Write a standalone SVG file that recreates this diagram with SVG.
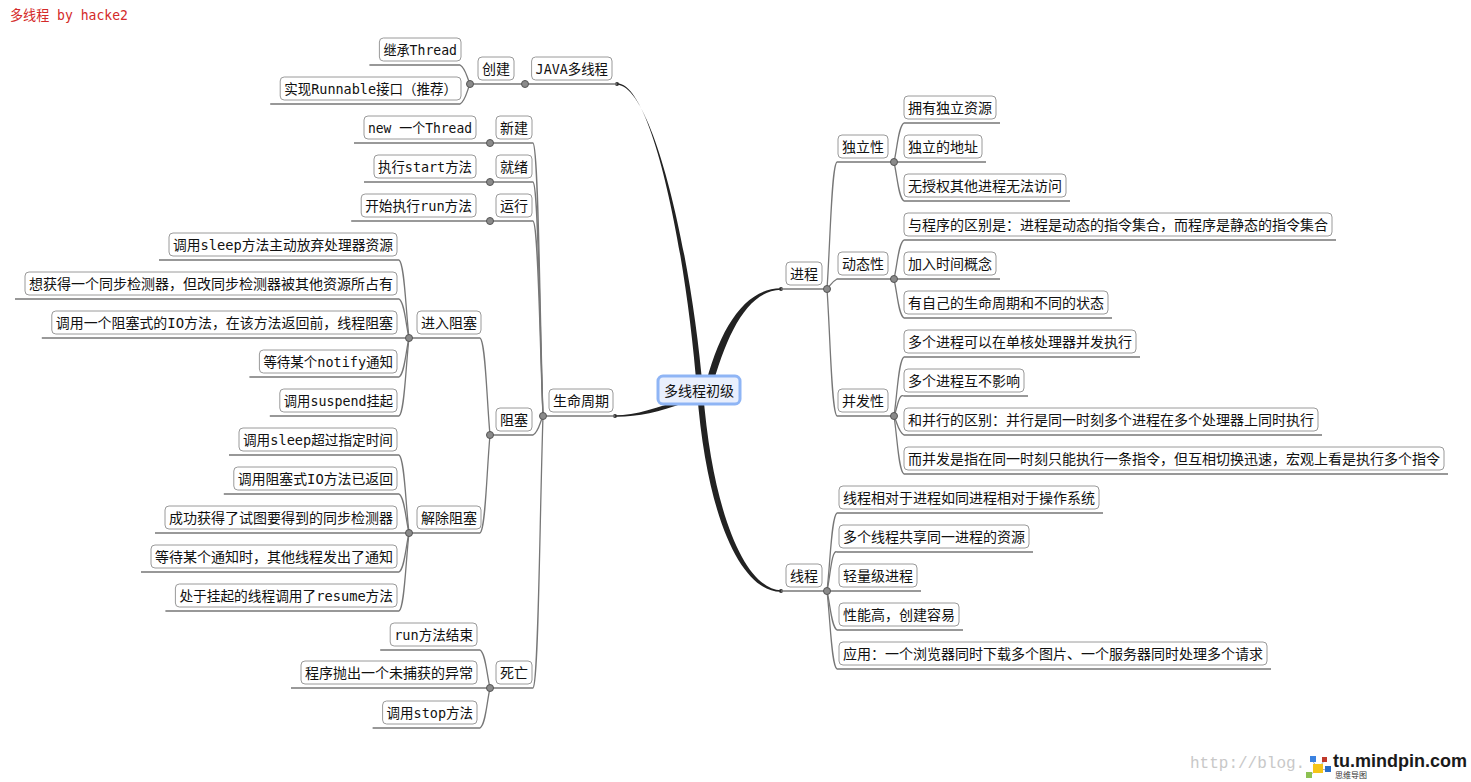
<svg xmlns="http://www.w3.org/2000/svg" width="1471" height="782" viewBox="0 0 1471 782">
<style>
.box{fill:#fff;stroke:#9a9a9a;stroke-width:1}
.t{font-family:"DejaVu Sans Mono","Noto Sans CJK SC",monospace;font-size:14px;fill:#111}
.ln{fill:none;stroke:#777;stroke-width:1.3}
.jn{fill:#8a8a8a;stroke:#555;stroke-width:1}
.dot{fill:#333}
.trunk{fill:#222}
.root{fill:#e9effd;stroke:#8fb5f5;stroke-width:3}
</style>
<rect width="1471" height="782" fill="#fff"/>
<text class="t" x="10" y="20" style="fill:#d42a2a" textLength="118" lengthAdjust="spacingAndGlyphs">多线程 by hacke2</text>

<g id="connectors">
<path class="trunk" d="M617,83.2 C652,83.2 686,250 697,391 L703,391 C691,250 652,84.8 617,84.8 Z"/>
<path class="trunk" d="M697,391 C707,522 743,592.3 781,591.8 L781,590.3 C747,589.8 713,518 703,391 Z"/>
<path class="trunk" d="M704,391 C719,328 745,288.2 781,288.3 L781,289.8 C748,290.6 727,332 711,391 Z"/>
<path class="trunk" d="M684,398 C658,408 636,415.2 615,415.3 L615,416.7 C637,417 659,412 684,403 Z"/>
<circle class="dot" cx="617" cy="84" r="2"/>
<circle class="dot" cx="615" cy="416" r="2"/>
<circle class="dot" cx="781" cy="289" r="2"/>
<circle class="dot" cx="781" cy="591" r="2"/>
<path class="ln" d="M617,84 L525,84"/>
<path class="ln" d="M615,416 L543,416"/>
<path class="ln" d="M781,289 L827,289"/>
<path class="ln" d="M781,591 L827,591"/>
<!-- JAVA -->
<path class="ln" d="M525,84 L470,84"/>
<path class="ln" d="M470,84 C466.5,76.4 465.5,68 460,65 L369.4,65"/>
<path class="ln" d="M470,84 C466.5,92 465.5,101 460,104 L270.2,104"/>
<!-- life cycle -->
<path class="ln" d="M543,416 C539.5,306.8 538.5,146 533,143 L490,143"/>
<path class="ln" d="M543,416 C539.5,322.4 538.5,185 533,182 L490,182"/>
<path class="ln" d="M543,416 C539.5,338 538.5,224 533,221 L490,221"/>
<path class="ln" d="M543,416 C539.5,423.6 538.5,432 533,435 L490,435"/>
<path class="ln" d="M543,416 C539.5,524.8 538.5,685 533,688 L490,688"/>
<path class="ln" d="M490,143 L354,143"/>
<path class="ln" d="M490,182 L364,182"/>
<path class="ln" d="M490,221 L351.2,221"/>
<path class="ln" d="M490,435 C486.5,396.2 485.5,341 480,338 L409,338"/>
<path class="ln" d="M490,435 C486.5,474.2 485.5,530 480,533 L409,533"/>
<path class="ln" d="M409,338 C405.5,306.8 404.5,263 399,260 L159,260"/>
<path class="ln" d="M409,338 C405.5,322.4 404.5,302 399,299 L15,299"/>
<path class="ln" d="M409,338 L41.8,338"/>
<path class="ln" d="M409,338 C405.5,353.6 404.5,374 399,377 L249.4,377"/>
<path class="ln" d="M409,338 C405.5,369.2 404.5,413 399,416 L269.8,416"/>
<path class="ln" d="M409,533 C405.5,501.8 404.5,458 399,455 L229,455"/>
<path class="ln" d="M409,533 C405.5,517.4 404.5,497 399,494 L223.8,494"/>
<path class="ln" d="M409,533 L155,533"/>
<path class="ln" d="M409,533 C405.5,548.6 404.5,569 399,572 L141,572"/>
<path class="ln" d="M409,533 C405.5,564.2 404.5,608 399,611 L165.4,611"/>
<path class="ln" d="M490,688 C486.5,672.8 485.5,653 480,650 L380.2,650"/>
<path class="ln" d="M490,688 L291,688"/>
<path class="ln" d="M490,688 C486.5,704 485.5,725 480,728 L372.6,728"/>
<!-- process -->
<path class="ln" d="M827,289 C830.5,238.2 831.5,165 837,162 L894,162"/>
<path class="ln" d="M827,289 C830.5,285 831.5,282 837,279 L894,279"/>
<path class="ln" d="M827,289 C830.5,339.8 831.5,413 837,416 L894,416"/>
<path class="ln" d="M894,162 C897.5,146.4 898.5,126 904,123 L1000,123"/>
<path class="ln" d="M894,162 L986,162"/>
<path class="ln" d="M894,162 C897.5,177.6 898.5,198 904,201 L1070,201"/>
<path class="ln" d="M894,279 C897.5,263.4 898.5,243 904,240 L1336,240"/>
<path class="ln" d="M894,279 L1000,279"/>
<path class="ln" d="M894,279 C897.5,294.6 898.5,315 904,318 L1112,318"/>
<path class="ln" d="M894,416 C897.5,392.4 898.5,360 904,357 L1140,357"/>
<path class="ln" d="M894,416 C897.5,408 898.5,393 904,396 L1028,396"/>
<path class="ln" d="M894,416 C897.5,423.6 898.5,432 904,435 L1322,435"/>
<path class="ln" d="M894,416 C897.5,439.2 898.5,471 904,474 L1448,474"/>
<!-- thread -->
<path class="ln" d="M827,591 C830.5,559.8 831.5,516 837,513 L1103,513"/>
<path class="ln" d="M827,591 C830.5,575.4 831.5,549 837,552 L1033,552"/>
<path class="ln" d="M827,591 L921,591"/>
<path class="ln" d="M827,591 C830.5,606.6 831.5,627 837,630 L963,630"/>
<path class="ln" d="M827,591 C830.5,622.2 831.5,666 837,669 L1271,669"/>
</g>

<g id="root"><rect class="root" x="658" y="376" width="82" height="28" rx="5"/><text class="t" x="664" y="395.5" textLength="70" lengthAdjust="spacingAndGlyphs">多线程初级</text></g>

<g id="n_java"><rect class="box" x="531.6" y="57" width="80.4" height="23" rx="4"/><text class="t" x="535.6" y="74" textLength="72.4" lengthAdjust="spacingAndGlyphs">JAVA多线程</text><circle class="jn" cx="525" cy="84" r="3.5"/></g>
<g id="n_create"><rect class="box" x="478" y="57" width="36" height="23" rx="4"/><text class="t" x="482" y="74" textLength="28" lengthAdjust="spacingAndGlyphs">创建</text><circle class="jn" cx="470" cy="84" r="3.5"/></g>
<g id="n_c1"><rect class="box" x="379.4" y="38" width="81.6" height="23" rx="4"/><text class="t" x="383.4" y="55" textLength="73.6" lengthAdjust="spacingAndGlyphs">继承Thread</text></g>
<g id="n_c2"><rect class="box" x="280.2" y="77" width="180.8" height="23" rx="4"/><text class="t" x="284.2" y="94" textLength="172.8" lengthAdjust="spacingAndGlyphs">实现Runnable接口（推荐）</text></g>

<g id="n_life"><rect class="box" x="549" y="389" width="64" height="23" rx="4"/><text class="t" x="553" y="406" textLength="56" lengthAdjust="spacingAndGlyphs">生命周期</text><circle class="jn" cx="543" cy="416" r="3.5"/></g>
<g id="n_new"><rect class="box" x="496" y="116" width="36" height="23" rx="4"/><text class="t" x="500" y="133" textLength="28" lengthAdjust="spacingAndGlyphs">新建</text><circle class="jn" cx="490" cy="143" r="3.5"/></g>
<g id="n_new1"><rect class="box" x="364" y="116" width="112" height="23" rx="4"/><text class="t" x="368" y="133" textLength="104" lengthAdjust="spacingAndGlyphs">new 一个Thread</text></g>
<g id="n_ready"><rect class="box" x="496" y="155" width="36" height="23" rx="4"/><text class="t" x="500" y="172" textLength="28" lengthAdjust="spacingAndGlyphs">就绪</text><circle class="jn" cx="490" cy="182" r="3.5"/></g>
<g id="n_ready1"><rect class="box" x="374" y="155" width="102" height="23" rx="4"/><text class="t" x="378" y="172" textLength="94" lengthAdjust="spacingAndGlyphs">执行start方法</text></g>
<g id="n_run"><rect class="box" x="496" y="194" width="36" height="23" rx="4"/><text class="t" x="500" y="211" textLength="28" lengthAdjust="spacingAndGlyphs">运行</text><circle class="jn" cx="490" cy="221" r="3.5"/></g>
<g id="n_run1"><rect class="box" x="361.2" y="194" width="114.8" height="23" rx="4"/><text class="t" x="365.2" y="211" textLength="106.8" lengthAdjust="spacingAndGlyphs">开始执行run方法</text></g>
<g id="n_block"><rect class="box" x="496" y="408" width="36" height="23" rx="4"/><text class="t" x="500" y="425" textLength="28" lengthAdjust="spacingAndGlyphs">阻塞</text><circle class="jn" cx="490" cy="435" r="3.5"/></g>
<g id="n_enter"><rect class="box" x="417" y="311" width="64" height="23" rx="4"/><text class="t" x="421" y="328" textLength="56" lengthAdjust="spacingAndGlyphs">进入阻塞</text><circle class="jn" cx="409" cy="338" r="3.5"/></g>
<g id="n_e1"><rect class="box" x="169" y="233" width="228" height="23" rx="4"/><text class="t" x="173" y="250" textLength="220" lengthAdjust="spacingAndGlyphs">调用sleep方法主动放弃处理器资源</text></g>
<g id="n_e2"><rect class="box" x="25" y="272" width="372" height="23" rx="4"/><text class="t" x="29" y="289" textLength="364" lengthAdjust="spacingAndGlyphs">想获得一个同步检测器，但改同步检测器被其他资源所占有</text></g>
<g id="n_e3"><rect class="box" x="51.8" y="311" width="345.2" height="23" rx="4"/><text class="t" x="55.8" y="328" textLength="337.2" lengthAdjust="spacingAndGlyphs">调用一个阻塞式的IO方法，在该方法返回前，线程阻塞</text></g>
<g id="n_e4"><rect class="box" x="259.4" y="350" width="137.6" height="23" rx="4"/><text class="t" x="263.4" y="367" textLength="129.6" lengthAdjust="spacingAndGlyphs">等待某个notify通知</text></g>
<g id="n_e5"><rect class="box" x="279.8" y="389" width="117.2" height="23" rx="4"/><text class="t" x="283.8" y="406" textLength="109.2" lengthAdjust="spacingAndGlyphs">调用suspend挂起</text></g>
<g id="n_release"><rect class="box" x="417" y="506" width="64" height="23" rx="4"/><text class="t" x="421" y="523" textLength="56" lengthAdjust="spacingAndGlyphs">解除阻塞</text><circle class="jn" cx="409" cy="533" r="3.5"/></g>
<g id="n_r1"><rect class="box" x="239" y="428" width="158" height="23" rx="4"/><text class="t" x="243" y="445" textLength="150" lengthAdjust="spacingAndGlyphs">调用sleep超过指定时间</text></g>
<g id="n_r2"><rect class="box" x="233.8" y="467" width="163.2" height="23" rx="4"/><text class="t" x="237.8" y="484" textLength="155.2" lengthAdjust="spacingAndGlyphs">调用阻塞式IO方法已返回</text></g>
<g id="n_r3"><rect class="box" x="165" y="506" width="232" height="23" rx="4"/><text class="t" x="169" y="523" textLength="224" lengthAdjust="spacingAndGlyphs">成功获得了试图要得到的同步检测器</text></g>
<g id="n_r4"><rect class="box" x="151" y="545" width="246" height="23" rx="4"/><text class="t" x="155" y="562" textLength="238" lengthAdjust="spacingAndGlyphs">等待某个通知时，其他线程发出了通知</text></g>
<g id="n_r5"><rect class="box" x="175.4" y="584" width="221.6" height="23" rx="4"/><text class="t" x="179.4" y="601" textLength="213.6" lengthAdjust="spacingAndGlyphs">处于挂起的线程调用了resume方法</text></g>
<g id="n_dead"><rect class="box" x="496" y="661" width="36" height="23" rx="4"/><text class="t" x="500" y="678" textLength="28" lengthAdjust="spacingAndGlyphs">死亡</text><circle class="jn" cx="490" cy="688" r="3.5"/></g>
<g id="n_d1"><rect class="box" x="390.2" y="623" width="86.8" height="23" rx="4"/><text class="t" x="394.2" y="640" textLength="78.8" lengthAdjust="spacingAndGlyphs">run方法结束</text></g>
<g id="n_d2"><rect class="box" x="301" y="661" width="176" height="23" rx="4"/><text class="t" x="305" y="678" textLength="168" lengthAdjust="spacingAndGlyphs">程序抛出一个未捕获的异常</text></g>
<g id="n_d3"><rect class="box" x="382.6" y="701" width="94.4" height="23" rx="4"/><text class="t" x="386.6" y="718" textLength="86.4" lengthAdjust="spacingAndGlyphs">调用stop方法</text></g>

<g id="n_proc"><rect class="box" x="786" y="262" width="36" height="23" rx="4"/><text class="t" x="790" y="279" textLength="28" lengthAdjust="spacingAndGlyphs">进程</text><circle class="jn" cx="827" cy="289" r="3.5"/></g>
<g id="n_ind"><rect class="box" x="838" y="135" width="50" height="23" rx="4"/><text class="t" x="842" y="152" textLength="42" lengthAdjust="spacingAndGlyphs">独立性</text><circle class="jn" cx="894" cy="162" r="3.5"/></g>
<g id="n_i1"><rect class="box" x="904" y="96" width="92" height="23" rx="4"/><text class="t" x="908" y="113" textLength="84" lengthAdjust="spacingAndGlyphs">拥有独立资源</text></g>
<g id="n_i2"><rect class="box" x="904" y="135" width="78" height="23" rx="4"/><text class="t" x="908" y="152" textLength="70" lengthAdjust="spacingAndGlyphs">独立的地址</text></g>
<g id="n_i3"><rect class="box" x="904" y="174" width="162" height="23" rx="4"/><text class="t" x="908" y="191" textLength="154" lengthAdjust="spacingAndGlyphs">无授权其他进程无法访问</text></g>
<g id="n_dyn"><rect class="box" x="838" y="252" width="50" height="23" rx="4"/><text class="t" x="842" y="269" textLength="42" lengthAdjust="spacingAndGlyphs">动态性</text><circle class="jn" cx="894" cy="279" r="3.5"/></g>
<g id="n_y1"><rect class="box" x="904" y="213" width="428" height="23" rx="4"/><text class="t" x="908" y="230" textLength="420" lengthAdjust="spacingAndGlyphs">与程序的区别是：进程是动态的指令集合，而程序是静态的指令集合</text></g>
<g id="n_y2"><rect class="box" x="904" y="252" width="92" height="23" rx="4"/><text class="t" x="908" y="269" textLength="84" lengthAdjust="spacingAndGlyphs">加入时间概念</text></g>
<g id="n_y3"><rect class="box" x="904" y="291" width="204" height="23" rx="4"/><text class="t" x="908" y="308" textLength="196" lengthAdjust="spacingAndGlyphs">有自己的生命周期和不同的状态</text></g>
<g id="n_con"><rect class="box" x="838" y="389" width="50" height="23" rx="4"/><text class="t" x="842" y="406" textLength="42" lengthAdjust="spacingAndGlyphs">并发性</text><circle class="jn" cx="894" cy="416" r="3.5"/></g>
<g id="n_k1"><rect class="box" x="904" y="330" width="232" height="23" rx="4"/><text class="t" x="908" y="347" textLength="224" lengthAdjust="spacingAndGlyphs">多个进程可以在单核处理器并发执行</text></g>
<g id="n_k2"><rect class="box" x="904" y="369" width="120" height="23" rx="4"/><text class="t" x="908" y="386" textLength="112" lengthAdjust="spacingAndGlyphs">多个进程互不影响</text></g>
<g id="n_k3"><rect class="box" x="904" y="408" width="414" height="23" rx="4"/><text class="t" x="908" y="425" textLength="406" lengthAdjust="spacingAndGlyphs">和并行的区别：并行是同一时刻多个进程在多个处理器上同时执行</text></g>
<g id="n_k4"><rect class="box" x="904" y="447" width="540" height="23" rx="4"/><text class="t" x="908" y="464" textLength="532" lengthAdjust="spacingAndGlyphs">而并发是指在同一时刻只能执行一条指令，但互相切换迅速，宏观上看是执行多个指令</text></g>
<g id="n_thr"><rect class="box" x="786" y="564" width="36" height="23" rx="4"/><text class="t" x="790" y="581" textLength="28" lengthAdjust="spacingAndGlyphs">线程</text><circle class="jn" cx="827" cy="591" r="3.5"/></g>
<g id="n_h1"><rect class="box" x="839" y="486" width="260" height="23" rx="4"/><text class="t" x="843" y="503" textLength="252" lengthAdjust="spacingAndGlyphs">线程相对于进程如同进程相对于操作系统</text></g>
<g id="n_h2"><rect class="box" x="839" y="525" width="190" height="23" rx="4"/><text class="t" x="843" y="542" textLength="182" lengthAdjust="spacingAndGlyphs">多个线程共享同一进程的资源</text></g>
<g id="n_h3"><rect class="box" x="839" y="564" width="78" height="23" rx="4"/><text class="t" x="843" y="581" textLength="70" lengthAdjust="spacingAndGlyphs">轻量级进程</text></g>
<g id="n_h4"><rect class="box" x="839" y="603" width="120" height="23" rx="4"/><text class="t" x="843" y="620" textLength="112" lengthAdjust="spacingAndGlyphs">性能高，创建容易</text></g>
<g id="n_h5"><rect class="box" x="839" y="642" width="428" height="23" rx="4"/><text class="t" x="843" y="659" textLength="420" lengthAdjust="spacingAndGlyphs">应用：一个浏览器同时下载多个图片、一个服务器同时处理多个请求</text></g>

<g id="watermark">
<text x="1190" y="768" style="font-family:'Liberation Mono',monospace;font-size:16px;fill:#c8c8c8">http://blog.</text>
<path d="M1312,760 L1318,769 L1324,761 M1318,769 L1328,770 M1318,769 L1310,775" stroke="#9ab" stroke-width="1" fill="none"/>
<rect x="1310" y="756" width="6" height="6" fill="#3b82e0"/>
<rect x="1322" y="757" width="5" height="5" fill="#c0392b"/>
<rect x="1313" y="764" width="10" height="9" fill="#f5c518"/>
<rect x="1325" y="766" width="6" height="6" fill="#2a6fc9"/>
<rect x="1306" y="772" width="6" height="6" fill="#8cc152"/>
<text x="1333" y="767" style="font-family:'Liberation Sans',Arial,sans-serif;font-size:18px;font-weight:bold;fill:#1a1a1a">tu.mindpin.com</text>
<text x="1335" y="778" style="font-family:'Noto Sans CJK SC',sans-serif;font-size:8px;fill:#333">思维导图</text>
</g>
</svg>
